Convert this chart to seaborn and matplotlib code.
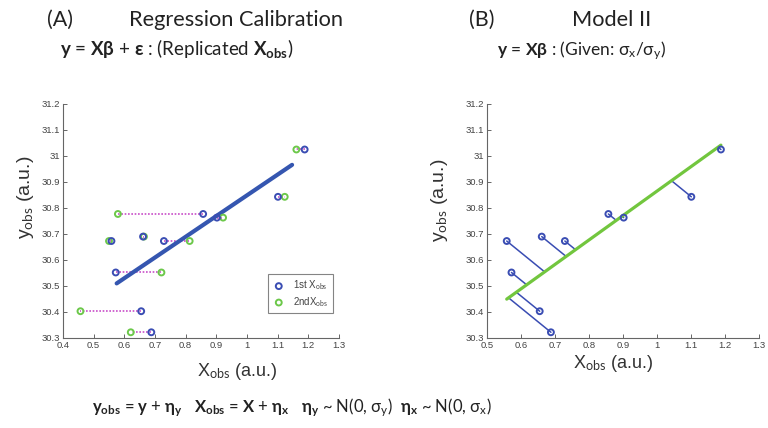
import numpy as np
import pandas as pd
import matplotlib
matplotlib.use("Agg")
import matplotlib.pyplot as plt
import seaborn as sns

# ---------------- data ----------------
x_first = [1.188, 1.101, 0.857, 0.902, 0.558, 0.661, 0.729, 0.572, 0.655, 0.688]
x_second = [1.161, 1.123, 0.579, 0.922, 0.550, 0.664, 0.813, 0.721, 0.457, 0.621]
y_obs = [31.025, 30.843, 30.777, 30.763, 30.673, 30.690, 30.673, 30.552, 30.403, 30.322]

rc_line_x = [0.575, 1.147]
rc_line_y = [30.510, 30.966]

m2_slope = 0.94
m2_intercept = 29.925

xticks_a = [0.4, 0.5, 0.6, 0.7, 0.8, 0.9, 1.0, 1.1, 1.2, 1.3]
xticklabels_a = ["0.4", "0.5", "0.6", "0.7", "0.8", "0.9", "1", "1.1", "1.2", "1.3"]
xticks_b = [0.5, 0.6, 0.7, 0.8, 0.9, 1.0, 1.1, 1.2, 1.3]
xticklabels_b = ["0.5", "0.6", "0.7", "0.8", "0.9", "1", "1.1", "1.2", "1.3"]
yticks = [30.3, 30.4, 30.5, 30.6, 30.7, 30.8, 30.9, 31.0, 31.1, 31.2]
yticklabels = ["30.3", "30.4", "30.5", "30.6", "30.7", "30.8", "30.9", "31", "31.1", "31.2"]

legend_labels = [r"1st X$_{\rm obs}$", r"2ndX$_{\rm obs}$"]

# ---------------- style ----------------
sns.set_theme(style="ticks")
plt.rcParams["font.family"] = ["Liberation Sans", "DejaVu Sans"]
plt.rcParams["mathtext.fontset"] = "custom"
plt.rcParams["mathtext.rm"] = "Lato"
plt.rcParams["mathtext.bf"] = "Lato:bold"
plt.rcParams["mathtext.it"] = "Lato:italic"
plt.rcParams["mathtext.sf"] = "Lato"
plt.rcParams["mathtext.fallback"] = "stixsans"
plt.rcParams["xtick.direction"] = "in"
plt.rcParams["ytick.direction"] = "in"

BLUE = "#3a4db3"
LINE_BLUE = "#3556b0"
GREEN = "#6cc84a"
LINE_GREEN = "#72c63e"
MAGENTA = "#c84ec8"
SPINE = "#666666"
TICKTXT = "#444444"

fig = plt.figure(figsize=(7.68, 4.28), dpi=100)
W, H = 768, 428


def ax_rect(l, r, t, b):
    return [l / W, 1 - b / H, (r - l) / W, (b - t) / H]


axA = fig.add_axes(ax_rect(63, 339, 104, 338))
axB = fig.add_axes(ax_rect(487, 759, 104, 338))


def style_axis(ax, xt, xtl, xlim):
    ax.set_xlim(*xlim)
    ax.set_ylim(30.3, 31.2)
    ax.set_xticks(xt)
    ax.set_xticklabels(xtl)
    ax.set_yticks(yticks)
    ax.set_yticklabels(yticklabels)
    for s in ["top", "right"]:
        ax.spines[s].set_visible(False)
    for s in ["left", "bottom"]:
        ax.spines[s].set_color(SPINE)
        ax.spines[s].set_linewidth(0.8)
    ax.tick_params(axis="both", length=3, width=0.7, color=SPINE,
                   labelsize=6.8, labelcolor=TICKTXT, pad=2)
    ax.set_xlabel("")
    ax.set_ylabel("")
    ax.set_facecolor("white")


MK = dict(marker="o", s=18, facecolors="none", linewidth=1.4)

# ---------------- panel A ----------------
pairs = []
for i, (a, b, y) in enumerate(zip(x_first, x_second, y_obs)):
    pairs.append({"pair": i, "x": a, "y": y})
    pairs.append({"pair": i, "x": b, "y": y})
df_pairs = pd.DataFrame(pairs)
sns.lineplot(data=df_pairs, x="x", y="y", units="pair", estimator=None, sort=False,
             color=MAGENTA, linestyle=(0, (1, 1)), linewidth=1.2, ax=axA, legend=False)

sns.lineplot(x=rc_line_x, y=rc_line_y, color=LINE_BLUE, linewidth=3.0, ax=axA,
             legend=False, zorder=3)

sns.scatterplot(x=x_second, y=y_obs, ax=axA, color=GREEN, edgecolor=GREEN,
                label=legend_labels[1], zorder=4, **MK)
sns.scatterplot(x=x_first, y=y_obs, ax=axA, color=BLUE, edgecolor=BLUE,
                label=legend_labels[0], zorder=4, **MK)

style_axis(axA, xticks_a, xticklabels_a, (0.4, 1.3))
h, l = axA.get_legend_handles_labels()
order = [l.index(legend_labels[0]), l.index(legend_labels[1])]
leg = axA.legend([h[i] for i in order], [l[i] for i in order],
                 loc="lower right", bbox_to_anchor=(0.978, 0.107), borderaxespad=0,
                 fontsize=7, frameon=True, fancybox=False, handletextpad=0.8,
                 handlelength=1.4, borderpad=0.45, labelspacing=0.3,
                 labelcolor=TICKTXT)
leg.get_frame().set_edgecolor(SPINE)
leg.get_frame().set_linewidth(0.8)

# ---------------- panel B ----------------
xf = np.array(x_first)
yf = np.array(y_obs)
foot_x = (xf + m2_slope * (yf - m2_intercept)) / (1 + m2_slope ** 2)
foot_y = m2_intercept + m2_slope * foot_x
proj = []
for i in range(len(xf)):
    proj.append({"pair": i, "x": xf[i], "y": yf[i]})
    proj.append({"pair": i, "x": foot_x[i], "y": foot_y[i]})
df_proj = pd.DataFrame(proj)
sns.lineplot(data=df_proj, x="x", y="y", units="pair", estimator=None, sort=False,
             color=BLUE, linewidth=1.1, ax=axB, legend=False)

line_bx = np.array([xf.min(), xf.max()])
line_by = m2_intercept + m2_slope * line_bx
sns.lineplot(x=line_bx, y=line_by, color=LINE_GREEN, linewidth=2.3, ax=axB,
             legend=False, zorder=3)
sns.scatterplot(x=x_first, y=y_obs, ax=axB, color=BLUE, edgecolor=BLUE,
                zorder=4, legend=False, **MK)
style_axis(axB, xticks_b, xticklabels_b, (0.5, 1.3))

# ---------------- texts ----------------
def fx(px):
    return px / W


def fy(py):
    return 1 - py / H


TF = ["Lato", "DejaVu Sans"]
TC = "#222222"
fig.text(fx(60), fy(26), "(A)", ha="center", va="baseline", fontsize=15.5, family=TF, color=TC)
fig.text(fx(236), fy(26), "Regression Calibration", ha="center", va="baseline", fontsize=15.7, family=TF, color=TC)
fig.text(fx(482), fy(26), "(B)", ha="center", va="baseline", fontsize=15.5, family=TF, color=TC)
fig.text(fx(612), fy(26), "Model II", ha="center", va="baseline", fontsize=15.7, family=TF, color=TC)

fig.text(fx(60), fy(55),
         r"$\mathbf{y}$ = $\mathbf{Xβ}$ + $\mathbf{ε}$ : (Replicated $\mathbf{X}_{\mathbf{obs}}$)",
         ha="left", va="baseline", fontsize=13.5, family=TF, color=TC)
fig.text(fx(497), fy(55),
         r"$\mathbf{y}$ = $\mathbf{Xβ}$ : (Given: σ$_{\mathrm{x}}$/σ$_{\mathrm{y}}$)",
         ha="left", va="baseline", fontsize=12.5, family=TF, color=TC)

fig.text(fx(92), fy(408),
         r"$\mathbf{y}_{\mathbf{obs}}$ = $\mathbf{y}$ + $\mathbf{η}_{\mathbf{y}}$   "
         r"$\mathbf{X}_{\mathbf{obs}}$ = $\mathbf{X}$ + $\mathbf{η}_{\mathbf{x}}$   "
         r"$\mathbf{η}_{\mathbf{y}}$ ~ N(0, σ$_{\mathrm{y}}$)  "
         r"$\mathbf{η}_{\mathbf{x}}$ ~ N(0, σ$_{\mathrm{x}}$)",
         ha="left", va="center", fontsize=12, family=TF, color=TC)

LF = ["Liberation Sans", "DejaVu Sans"]
fig.text(fx(237), fy(372), r"X$_{\mathrm{obs}}$ (a.u.)", ha="center", va="center",
         fontsize=13, family=LF, color="#333333")
fig.text(fx(613), fy(364), r"X$_{\mathrm{obs}}$ (a.u.)", ha="center", va="center",
         fontsize=13, family=LF, color="#333333")
fig.text(fx(25), fy(197), r"y$_{\mathrm{obs}}$ (a.u.)", ha="center", va="center",
         rotation=90, fontsize=14, family=LF, color="#333333")
fig.text(fx(440), fy(200), r"y$_{\mathrm{obs}}$ (a.u.)", ha="center", va="center",
         rotation=90, fontsize=14, family=LF, color="#333333")

fig.savefig("out.png", dpi=100, facecolor="white")
